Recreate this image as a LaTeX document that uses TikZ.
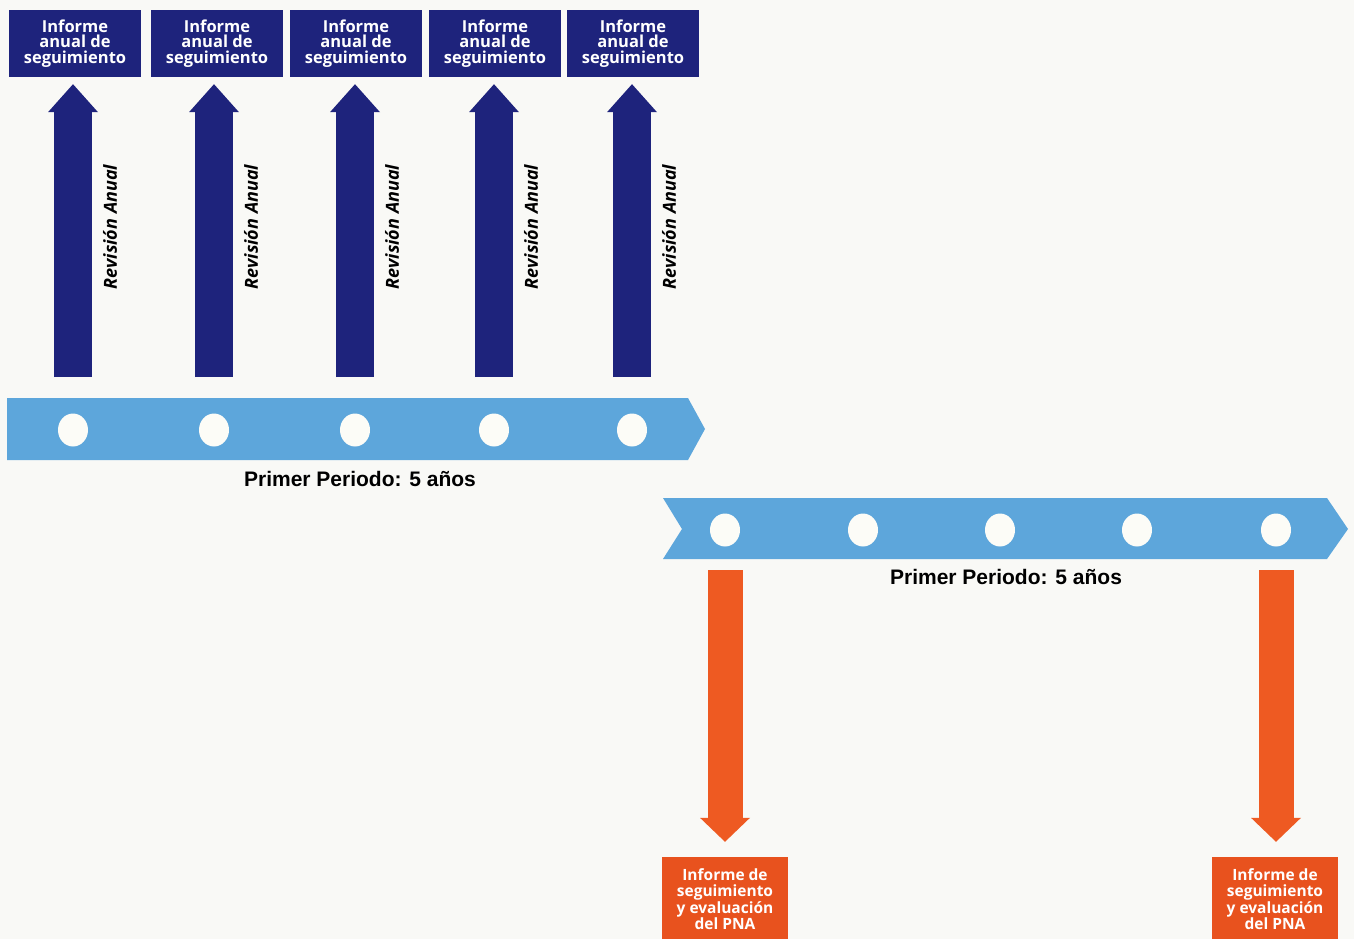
\documentclass[tikz,border=0pt]{standalone}
\usepackage{fontspec}
\usetikzlibrary{arrows.meta,calc,shapes.geometric}
\newfontfamily\osans{Open Sans}
\newfontfamily\lsans{Liberation Sans}
\definecolor{navy}{HTML}{1E237C}
\definecolor{sky}{HTML}{5DA6DB}
\definecolor{orarrow}{HTML}{EE5A22}
\definecolor{orbox}{HTML}{E8521E}
\definecolor{paper}{HTML}{F9F9F6}
\definecolor{dot}{HTML}{FCFCF7}
\begin{document}
\begin{tikzpicture}[x=1pt,y=-1pt,
  topbox/.style={fill=navy,text=white,minimum width=132pt,minimum height=67pt,inner sep=0pt,align=center,
    font=\osans\bfseries\fontsize{16.5}{15.2}\selectfont},
  botbox/.style={fill=orbox,text=white,minimum width=126pt,minimum height=84pt,inner sep=0pt,align=center,
    font=\osans\bfseries\fontsize{15.5}{16.5}\selectfont},
  hole/.style={ellipse,fill=dot,minimum width=30pt,minimum height=33pt,inner sep=0pt},
  upa/.style={draw=navy,line width=38pt,-{Triangle[width=50pt,length=28pt,line width=0pt]},shorten >=7pt},
  downa/.style={draw=orarrow,line width=35pt,-{Triangle[width=50pt,length=24pt,line width=0pt]},shorten >=15pt},
  revlbl/.style={rotate=90,inner sep=0pt,font=\osans\bfseries\itshape\fontsize{18}{18}\selectfont},
  period/.style={inner sep=0pt,font=\lsans\bfseries\fontsize{21}{21}\selectfont}
]
\useasboundingbox[fill=paper] (0,0) rectangle (1354,939);

% timeline bands
\fill[sky] (7,398) -- (688,398) -- (705,429) -- (688,460) -- (7,460) -- cycle;
\fill[sky] (663,498) -- (1327,498) -- (1348,529) -- (1327,559) -- (663,559) -- (682,529) -- cycle;

% holes
\foreach \x [count=\i] in {73,214,355,494,632}
  \node[hole] (c\i) at (\x,430) {};
\foreach \x [count=\i] in {725,863,1000,1137,1276}
  \node[hole] (d\i) at (\x,530) {};

% annual report boxes
\foreach \x [count=\i] in {75,217,356,495,633}
  \node[topbox] (b\i) at (\x,43.5) {Informe\\anual de\\seguimiento};

% annual review arrows and labels
\foreach \i in {1,...,5}{
  \draw[upa] ($(c\i)+(0,-53)$) -- (c\i |- b\i.south);
  \node[revlbl] (r\i) at ($(c\i)+(37,-203)$) {Revisión Anual};
}

% period labels
\node[period] (p1) at (360,479) {Primer Periodo: 5 años};
\node[period] (p2) at (1006,577) {Primer Periodo: 5 años};

% evaluation reports
\node[botbox] (o1) at (725,899) {Informe de\\seguimiento\\y evaluación\\del PNA};
\node[botbox] (o2) at (1275,899) {Informe de\\seguimiento\\y evaluación\\del PNA};
\draw[downa] ($(d1)+(0,40)$) -- (d1 |- o1.north);
\draw[downa] ($(d5)+(0,40)$) -- (d5 |- o2.north);
\end{tikzpicture}
\end{document}
